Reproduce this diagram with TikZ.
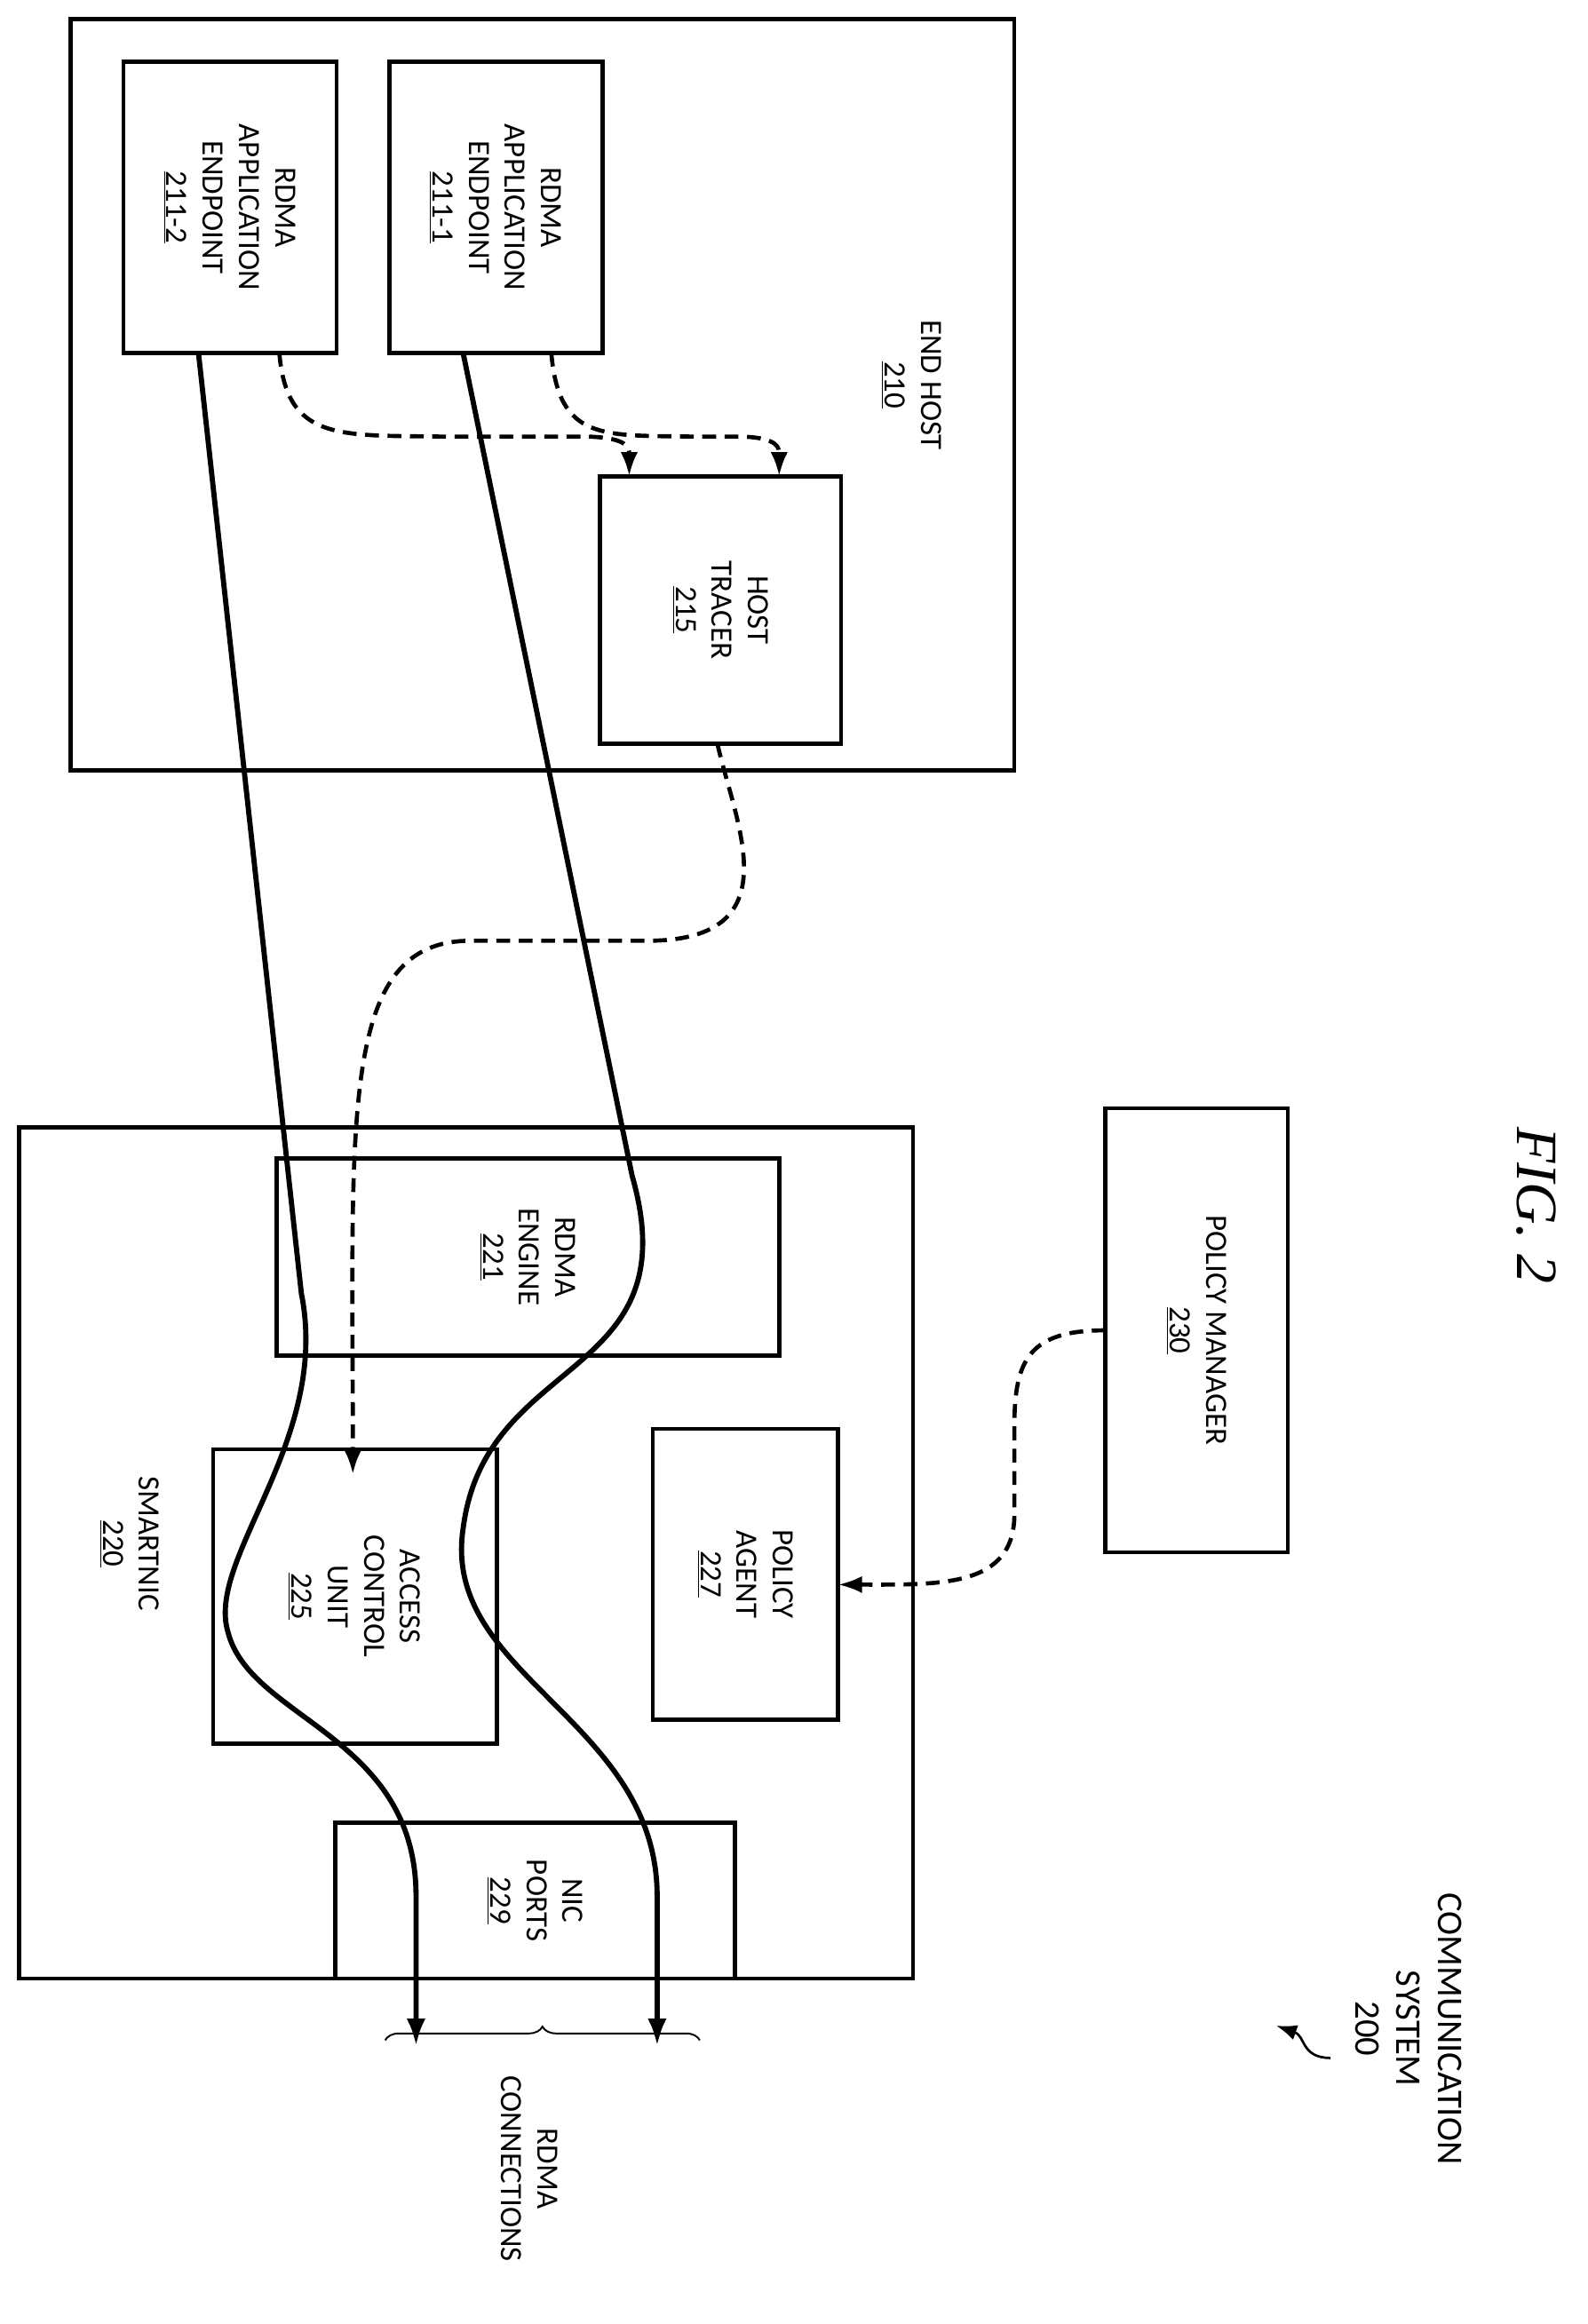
\documentclass[tikz,border=0pt]{standalone}
\usepackage{fontspec}
\setmainfont{Carlito}
\newfontfamily\figfont{Liberation Serif}
\usepackage{tikz}
\tikzset{>=latex}
\usetikzlibrary{positioning, arrows.meta, decorations.pathreplacing, calc}

\tikzset{
  blk/.style={draw, line width=2.4pt, fill=white},
  lbl/.style={rotate=-90, align=center, font=\fontsize{18}{21}\selectfont},
  link/.style={line width=3pt, -{Latex[length=16pt,width=11pt]}},
  ctrl/.style={line width=2.4pt, dash pattern=on 8pt off 5pt, -{Latex[length=14pt,width=10pt]}}
}

\begin{document}
\begin{tikzpicture}[x=0.03cm, y=-0.03cm]
    \useasboundingbox (0,0) rectangle (1080,1581);

    % end host
    \draw[blk] (48,13) rectangle (690,524);
    \node[lbl] (hostlbl) at (620,262) {END HOST\\\underline{210}};
    \draw[blk] (84,42) rectangle (229,240);
    \node[lbl] (ep2) at (156,141) {RDMA\\APPLICATION\\ENDPOINT\\\underline{211-2}};
    \draw[blk] (265,42) rectangle (410,240);
    \node[lbl] (ep1) at (337,141) {RDMA\\APPLICATION\\ENDPOINT\\\underline{211-1}};
    \draw[blk] (408,324) rectangle (572,506);
    \node[lbl] (tracer) at (490,415) {HOST\\TRACER\\\underline{215}};

    % smartnic
    \draw[blk] (13,767) rectangle (621,1346);
    \node[lbl] (niclbl) at (88,1050) {SMARTNIC\\\underline{220}};
    \draw[blk] (188,788) rectangle (530,922);
    \node[lbl] (engine) at (359,855) {RDMA\\ENGINE\\\underline{221}};
    \draw[blk] (145,986) rectangle (338,1186);
    \node[lbl] (acu) at (241,1086) {ACCESS\\CONTROL\\UNIT\\\underline{225}};
    \draw[blk] (444,972) rectangle (570,1170);
    \node[lbl] (agent) at (507,1071) {POLICY\\AGENT\\\underline{227}};
    \draw[blk] (228,1240) rectangle (500,1346);
    \node[lbl] (ports) at (364,1293) {NIC\\PORTS\\\underline{229}};

    % policy manager
    \draw[blk] (752,754) rectangle (876,1056);
    \node[lbl] (manager) at (814,905) {POLICY MANAGER\\\underline{230}};

    % rdma connections
    \coordinate (c2) at (283,1392);
    \coordinate (c1) at (447,1392);
    \draw[link] (135,240) -- (205,880) .. controls (225,980) and (140,1060) .. (155,1110)
        .. controls (170,1170) and (283,1180) .. (283,1290) -- (c2);
    \draw[link] (315,240) -- (430,800) .. controls (470,940) and (330,920) .. (315,1040)
        .. controls (300,1140) and (447,1170) .. (447,1290) -- (c1);

    % trace and policy flows
    \draw[ctrl] (190,240) .. controls (195,300) and (230,296) .. (300,297)
        -- (400,297) .. controls (428,298) and (428,305) .. (428,324);
    \draw[ctrl] (375,240) .. controls (380,300) and (410,296) .. (470,297)
        -- (505,297) .. controls (530,298) and (530,305) .. (530,324);
    \draw[ctrl] (488,506) .. controls (500,560) and (540,640) .. (440,640)
        -- (320,640) .. controls (230,640) and (240,760) .. (240,1003);
    \draw[ctrl] (752,905) .. controls (700,905) and (690,925) .. (690,970)
        -- (690,1030) .. controls (690,1080) and (640,1078) .. (570,1078);

    % brace
    \draw[line width=1pt, decorate, decoration={brace, amplitude=8pt}]
        (262,1388) -- (476,1388) coordinate[midway] (bmid);
    \node[lbl, anchor=west] (connlbl) at (360,1408) {RDMA\\CONNECTIONS};

    % titles
    \node[rotate=-90, font=\figfont\itshape\fontsize{34}{36}\selectfont] (fig) at (1045,820) {FIG. 2};
    \node[lbl, font=\fontsize{21}{24}\selectfont] (sys) at (958,1380) {COMMUNICATION\\SYSTEM\\200};
    \draw[line width=1.4pt, -{Latex[length=12pt,width=9pt]}] (905,1400) .. controls (885,1400) and (888,1385) .. (868,1378);
\end{tikzpicture}
\end{document}
